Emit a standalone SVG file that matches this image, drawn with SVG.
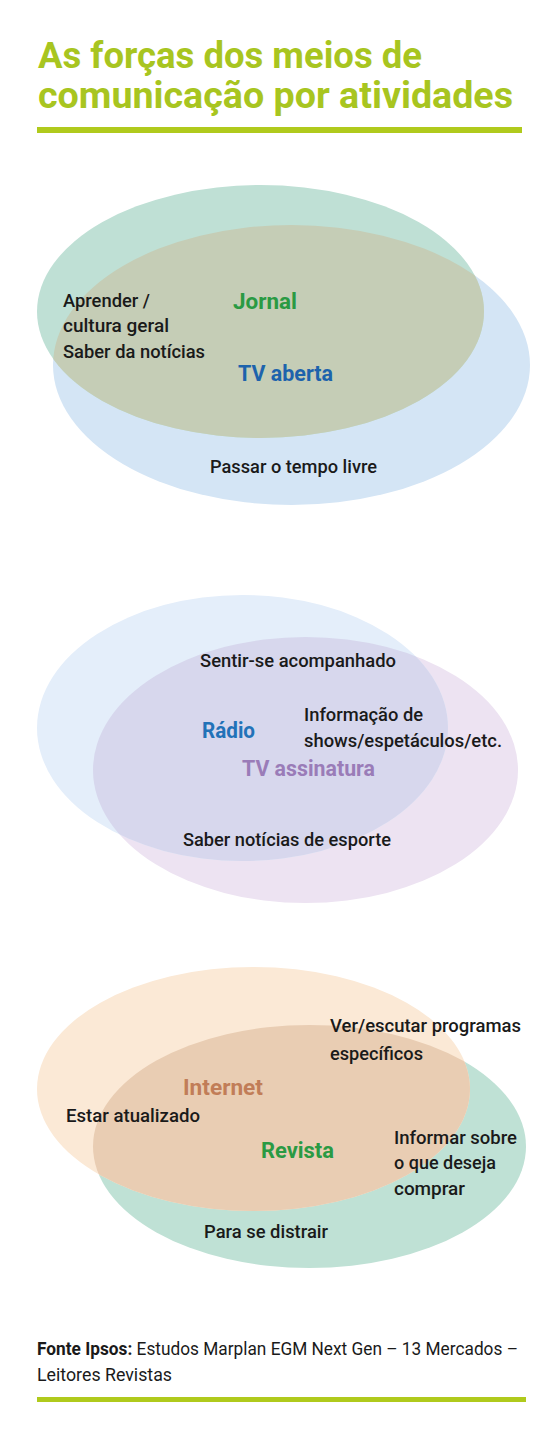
<svg xmlns="http://www.w3.org/2000/svg" width="560" height="1441" viewBox="0 0 560 1441">
<style>
.title{font-family:Roboto,"Liberation Sans",sans-serif;font-weight:700;font-size:36px;fill:#a8c520}
.bar{fill:#b0ca1c}
.t{font-family:Roboto,"Liberation Sans",sans-serif;font-weight:500;font-size:18px;fill:#1a1a1a}
.lbl{font-family:Roboto,"Liberation Sans",sans-serif;font-weight:700;font-size:22px}
.foot{font-family:Roboto,"Liberation Sans",sans-serif;font-weight:400;font-size:19px;fill:#1a1a1a}
</style>
<defs>
<clipPath id="cJornal"><ellipse cx="260.5" cy="311.5" rx="223.5" ry="126.5"/></clipPath>
<clipPath id="cRadio"><ellipse cx="242.5" cy="728" rx="205.5" ry="133"/></clipPath>
<clipPath id="cInternet"><ellipse cx="253.5" cy="1089" rx="216.5" ry="122"/></clipPath>
</defs>
<rect width="560" height="1441" fill="#ffffff"/>
<g id="title">
<text class="title" x="38" y="68" textLength="384" lengthAdjust="spacingAndGlyphs">As forças dos meios de</text>
<text class="title" x="38" y="108" textLength="475" lengthAdjust="spacingAndGlyphs">comunicação por atividades</text>
<rect class="bar" x="37" y="127" width="485" height="6"/>
</g>
<g id="venn1">
<g id="tvaberta">
<ellipse cx="291.5" cy="365" rx="238.5" ry="140" fill="#d4e5f5"/>
</g>
<g id="jornal">
<ellipse cx="260.5" cy="311.5" rx="223.5" ry="126.5" fill="#bfe0d5"/>
</g>
<ellipse cx="291.5" cy="365" rx="238.5" ry="140" fill="#c5cdb6" clip-path="url(#cJornal)"/>
<text class="lbl" x="233" y="309" fill="#2a9a43" textLength="64" lengthAdjust="spacingAndGlyphs">Jornal</text>
<text class="lbl" x="238" y="381" fill="#1d63ac" textLength="95" lengthAdjust="spacingAndGlyphs">TV aberta</text>
<text class="t" x="63" y="307" textLength="87" lengthAdjust="spacingAndGlyphs">Aprender /</text>
<text class="t" x="63" y="332" textLength="106" lengthAdjust="spacingAndGlyphs">cultura geral</text>
<text class="t" x="63" y="357.5" textLength="142" lengthAdjust="spacingAndGlyphs">Saber da notícias</text>
<text class="t" x="210" y="473" textLength="167" lengthAdjust="spacingAndGlyphs">Passar o tempo livre</text>
</g>
<g id="venn2">
<g id="tvassinatura">
<ellipse cx="305.5" cy="770" rx="212.5" ry="133" fill="#ede3f2"/>
</g>
<g id="radio">
<ellipse cx="242.5" cy="728" rx="205.5" ry="133" fill="#e4eefa"/>
</g>
<ellipse cx="305.5" cy="770" rx="212.5" ry="133" fill="#d7d7ed" clip-path="url(#cRadio)"/>
<text class="t" x="200" y="667" textLength="196" lengthAdjust="spacingAndGlyphs">Sentir-se acompanhado</text>
<text class="lbl" x="202" y="738" fill="#2272b8" textLength="53" lengthAdjust="spacingAndGlyphs">Rádio</text>
<text class="t" x="304" y="721" textLength="119" lengthAdjust="spacingAndGlyphs">Informação de</text>
<text class="t" x="304" y="747" textLength="198" lengthAdjust="spacingAndGlyphs">shows/espetáculos/etc.</text>
<text class="lbl" x="242" y="776" fill="#9a7cb8" textLength="133" lengthAdjust="spacingAndGlyphs">TV assinatura</text>
<text class="t" x="183" y="846" textLength="208" lengthAdjust="spacingAndGlyphs">Saber notícias de esporte</text>
</g>
<g id="venn3">
<g id="revista">
<ellipse cx="309.5" cy="1146.5" rx="216.5" ry="121.5" fill="#bfe1d5"/>
</g>
<g id="internet">
<ellipse cx="253.5" cy="1089" rx="216.5" ry="122" fill="#fbe9d6"/>
</g>
<ellipse cx="309.5" cy="1146.5" rx="216.5" ry="121.5" fill="#e9cdb3" clip-path="url(#cInternet)"/>
<text class="t" x="330" y="1032" textLength="191" lengthAdjust="spacingAndGlyphs">Ver/escutar programas</text>
<text class="t" x="330" y="1060" textLength="93" lengthAdjust="spacingAndGlyphs">específicos</text>
<text class="lbl" x="183" y="1095" fill="#c17d58" textLength="80" lengthAdjust="spacingAndGlyphs">Internet</text>
<text class="t" x="66" y="1122" textLength="134" lengthAdjust="spacingAndGlyphs">Estar atualizado</text>
<text class="t" x="394" y="1144" textLength="123" lengthAdjust="spacingAndGlyphs">Informar sobre</text>
<text class="t" x="394" y="1169" textLength="102" lengthAdjust="spacingAndGlyphs">o que deseja</text>
<text class="t" x="394" y="1195" textLength="71" lengthAdjust="spacingAndGlyphs">comprar</text>
<text class="lbl" x="261" y="1158" fill="#2a9a43" textLength="73" lengthAdjust="spacingAndGlyphs">Revista</text>
<text class="t" x="204" y="1238" textLength="124" lengthAdjust="spacingAndGlyphs">Para se distrair</text>
</g>
<g id="footer">
<text class="foot" x="37" y="1355" textLength="481" lengthAdjust="spacingAndGlyphs"><tspan font-weight="700">Fonte Ipsos:</tspan> Estudos Marplan EGM Next Gen – 13 Mercados –</text>
<text class="foot" x="37" y="1381" textLength="135" lengthAdjust="spacingAndGlyphs">Leitores Revistas</text>
<rect class="bar" x="37" y="1397" width="489" height="5"/>
</g>
</svg>
